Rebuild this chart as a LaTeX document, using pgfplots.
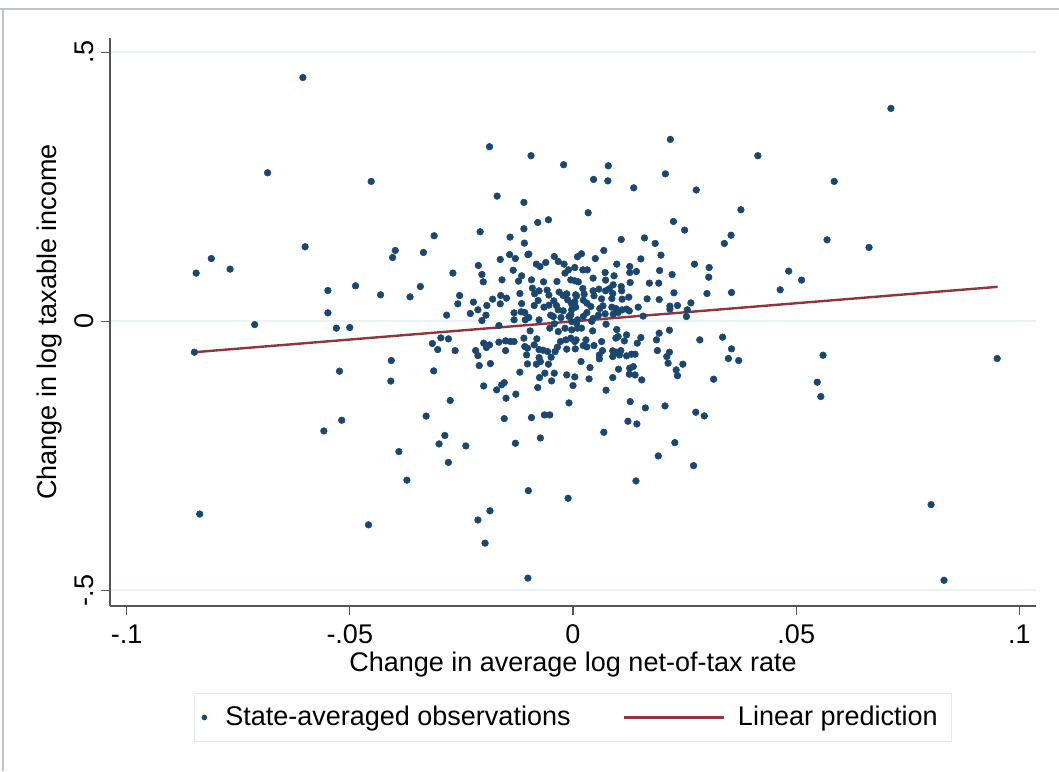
\documentclass[border=0pt]{standalone}
\usepackage{fontspec}
\setmainfont{Liberation Sans}
\usepackage{pgfplots}
\pgfplotsset{compat=1.18}
\definecolor{stnavy}{RGB}{26,71,111}
\definecolor{stmaroon}{RGB}{144,53,59}
\definecolor{stgrid}{RGB}{234,242,243}
\definecolor{stlegend}{RGB}{226,234,236}
\definecolor{framegray}{RGB}{192,198,198}
\definecolor{axisgray}{RGB}{85,85,85}
\pgfplotstableread{
x y
-0.0605 0.453
-0.0684 0.276
-0.0452 0.260
-0.0311 0.159
-0.0600 0.1385
-0.0398 0.1316
-0.0404 0.1186
-0.0335 0.128
-0.0810 0.1167
-0.0844 0.0896
-0.0768 0.097
-0.0549 0.0573
-0.0487 0.066
-0.0431 0.0493
-0.0365 0.0455
-0.0342 0.0647
-0.0549 0.0158
-0.0283 0.0115
-0.0713 -0.006
-0.0530 -0.0127
-0.0500 -0.0115
-0.0848 -0.0573
-0.0296 -0.0307
-0.0315 -0.0412
-0.0303 -0.0524
-0.0279 -0.0325
-0.0407 -0.0728
-0.0523 -0.0926
-0.0312 -0.092
-0.0408 -0.111
-0.0329 -0.176
-0.0518 -0.1837
-0.0558 -0.2036
-0.0287 -0.212
-0.0300 -0.2277
-0.0390 -0.242
-0.0279 -0.262
-0.0372 -0.295
-0.0836 -0.358
-0.0458 -0.378
-0.0275 -0.147
-0.0240 -0.2314
0.0712 0.3956
0.0414 0.3077
0.0585 0.260
0.0376 0.2073
0.0354 0.160
0.0339 0.1447
0.0569 0.1515
0.0663 0.1373
0.0305 0.100
0.0304 0.082
0.0300 0.0517
0.0355 0.0536
0.0483 0.0933
0.0512 0.0766
0.0464 0.0586
0.0335 -0.0294
0.0284 -0.0344
0.0355 -0.0511
0.0348 -0.069
0.0371 -0.0728
0.0315 -0.1075
0.0294 -0.1757
0.0560 -0.0629
0.0547 -0.113
0.0555 -0.1397
0.0950 -0.069
0.0802 -0.3405
0.0831 -0.481
0.0275 -0.1688
-0.0187 0.3244
-0.0094 0.3077
-0.0021 0.291
0.0079 0.289
0.0218 0.338
0.0046 0.2636
0.0078 0.261
0.0207 0.274
0.0136 0.248
0.0276 0.244
-0.0170 0.2327
-0.0110 0.221
0.0034 0.2017
-0.0055 0.1887
-0.0079 0.1837
0.0225 0.1856
0.0250 0.1695
-0.0208 0.1664
-0.0110 0.172
-0.0141 0.1565
-0.0109 0.1453
0.0108 0.152
0.0160 0.155
0.0184 0.1447
-0.0269 0.0896
-0.0212 0.1038
-0.0163 0.115
-0.0142 0.124
-0.0101 0.124
0.0069 0.1316
0.0152 0.116
0.0197 0.123
0.0272 0.1063
0.0222 0.087
-0.0254 0.048
-0.0258 0.0325
-0.0223 0.0357
-0.0230 0.0145
-0.0213 0.0214
-0.0204 0.0015
-0.0195 0.0115
-0.0193 0.0294
-0.0180 0.0412
-0.0162 0.048
-0.0163 0.0325
-0.0149 0.0431
-0.0159 0.0771
-0.0201 0.0734
-0.0204 0.087
-0.0134 0.095
-0.0119 0.0517
-0.0115 0.033
-0.0122 0.0747
-0.0132 0.0158
-0.0116 0.0177
-0.0166 -0.0078
-0.0129 0.1167
-0.0099 0.125
-0.0115 0.0846
-0.0093 0.0771
-0.0066 0.0734
-0.0082 0.1063
-0.0074 0.1019
-0.0061 0.1093
-0.0042 0.1205
-0.0033 0.1112
-0.0020 0.1063
-0.0036 0.074
-0.0018 0.0896
-0.0010 0.0957
0.0004 0.100
0.0010 0.120
-0.0091 0.0617
-0.0086 0.0511
-0.0076 0.0567
-0.0058 0.058
-0.0054 0.0487
-0.0031 0.0543
-0.0022 0.048
-0.0014 0.0511
-0.0012 0.040
0.0006 0.0493
-0.0087 0.0294
-0.0078 0.0387
-0.0065 0.0264
-0.0054 0.0301
-0.0043 0.0381
-0.0037 0.0294
-0.0033 0.0214
-0.0022 0.0195
-0.0003 0.0214
0.0004 0.0368
-0.0108 0.0164
-0.0099 0.0071
-0.0076 0.0028
-0.0050 0.0115
-0.0132 0.0028
0.0019 0.1255
0.0050 0.1167
0.0098 0.1063
0.0127 0.1019
0.0022 0.0957
0.0032 0.0957
0.0072 0.0907
0.0092 0.0846
0.0127 0.0907
0.0142 0.0926
0.0194 0.0944
-0.0005 0.0771
0.0004 0.0753
0.0012 0.0734
0.0045 0.0803
0.0073 0.0766
0.0090 0.0679
0.0108 0.0647
0.0128 0.0721
0.0171 0.071
0.0192 0.071
0.0022 0.061
0.0045 0.0567
0.0058 0.0598
0.0073 0.0567
0.0081 0.0604
0.0109 0.0567
0.0226 0.053
0.0008 0.0474
0.0025 0.0506
0.0023 0.0394
0.0047 0.0474
0.0064 0.0418
0.0089 0.0517
0.0087 0.0424
0.0110 0.0412
0.0125 0.045
0.0166 0.0418
0.0193 0.0405
-0.0003 0.0325
0.0006 0.0264
0.0031 0.0338
0.0040 0.0275
0.0060 0.0238
0.0067 0.0288
0.0087 0.0264
0.0096 0.0238
0.0110 0.0214
0.0120 0.0227
0.0146 0.0264
0.0217 0.0283
0.0217 0.0227
0.0234 0.0294
0.0264 0.0344
0.0256 0.0214
0.0254 0.009
0.0157 0.0097
0.0031 0.0164
0.0045 0.0052
0.0057 0.0115
0.0072 0.0139
0.0090 0.0134
0.0101 0.0164
0.0126 0.0195
0.0010 0.0028
0.0023 0.009
-0.0005 0.0121
-0.0264 -0.0543
-0.0218 -0.0543
-0.0213 -0.0636
-0.0210 -0.0822
-0.0185 -0.0784
-0.0200 -0.0405
-0.0194 -0.0487
-0.0187 -0.0437
-0.0166 -0.0387
-0.0151 -0.0363
-0.0151 -0.0543
-0.0140 -0.0375
-0.0132 -0.0375
-0.0110 -0.0312
-0.0108 -0.0468
-0.0102 -0.0498
-0.0104 -0.0623
-0.0107 0.0028
-0.0096 -0.0177
-0.0081 -0.0325
-0.0087 -0.0437
-0.0076 -0.0524
-0.0102 -0.079
-0.0076 -0.0673
-0.0073 -0.0747
-0.0082 -0.0796
-0.0067 -0.0536
-0.0057 -0.0561
-0.0049 -0.0666
-0.0040 -0.0561
-0.0035 -0.048
-0.0028 -0.0375
-0.0016 -0.0344
-0.0014 -0.0517
0.0005 -0.0511
0.0004 -0.0375
-0.0052 -0.0127
-0.0042 -0.0046
-0.0033 -0.019
-0.0018 -0.0127
-0.0003 -0.0158
-0.0009 0.009
-0.0044 0.009
-0.0027 0.007
-0.0055 -0.0796
-0.0063 -0.0963
-0.0042 -0.0963
-0.0075 -0.1045
-0.0048 -0.1106
-0.0119 -0.0944
-0.0014 -0.0995
0.0004 -0.1032
0.0000 -0.1193
-0.0154 -0.1138
-0.0160 -0.118
-0.0200 -0.120
-0.0171 -0.1273
-0.0150 -0.1428
-0.0128 -0.1353
-0.0079 -0.123
-0.0009 -0.1515
-0.0154 -0.1807
-0.0093 -0.1788
-0.0064 -0.1738
-0.0052 -0.1738
-0.0003 -0.0004
0.0008 -0.0034
0.0019 -0.0127
0.0010 -0.0127
0.0042 0.0
0.0044 -0.0177
0.0074 -0.0052
0.0098 -0.0152
-0.0005 -0.0312
0.0007 -0.0344
0.0029 -0.0344
0.0023 -0.045
0.0031 -0.0474
0.0047 -0.045
0.0064 -0.0375
0.0066 -0.0543
0.0059 -0.0623
0.0059 -0.0697
0.0096 -0.0312
0.0101 -0.0282
0.0120 -0.0251
0.0115 -0.0363
0.0152 -0.0301
0.0144 -0.0405
0.0193 -0.022
0.0216 -0.0164
0.0187 -0.0344
0.0089 -0.0548
0.0098 -0.0573
0.0107 -0.0543
0.0089 -0.0654
0.0104 -0.0623
0.0120 -0.0641
0.0131 -0.061
0.0139 -0.061
0.0189 -0.0543
0.0210 -0.0654
0.0216 -0.0573
0.0213 -0.0777
0.0246 -0.0796
0.0231 -0.0902
0.0234 -0.1008
0.0018 -0.0747
0.0038 -0.0859
0.0102 -0.0889
0.0127 -0.087
0.0135 -0.084
0.0126 -0.0982
0.0139 -0.0995
0.0036 -0.1069
0.0089 -0.1045
0.0154 -0.1088
0.0074 -0.1279
0.0128 -0.1491
0.0162 -0.1608
0.0206 -0.1571
-0.0129 -0.2265
-0.0073 -0.2166
0.0069 -0.206
0.0123 -0.1856
0.0143 -0.1906
0.0228 -0.2253
0.0191 -0.250
0.0270 -0.268
0.0141 -0.2965
-0.0100 -0.3145
-0.0011 -0.3287
-0.0213 -0.369
-0.0186 -0.352
-0.0197 -0.412
-0.0101 -0.477
}\obs
\begin{document}
\fontsize{20.25pt}{24pt}\selectfont
\begin{tikzpicture}
\begin{scope}[x=0.75pt,y=0.75pt]
\path[use as bounding box] (0,0) rectangle (1059,771);
\draw[framegray, line width=1.2pt] (0,762) -- (1059,762);
\draw[framegray, line width=1.2pt] (3,0) -- (3,762);
\end{scope}
\begin{axis}[
  at={(82.5pt,123.75pt)}, anchor=south west,
  width=694.5pt, height=426pt, scale only axis,
  xmin=-0.1037, xmax=0.1037, ymin=-0.5288, ymax=0.5264,
  axis x line*=bottom, axis y line*=left,
  axis line style={-, axisgray, line width=1.3pt},
  xtick={-0.1,-0.05,0,0.05,0.1},
  xticklabels={-.1,-.05,0,.05,.1},
  ytick={-0.5,0,0.5},
  yticklabels={-.5,0,.5},
  tick align=outside,
  major tick length=7pt,
  tick style={axisgray, line width=0.9pt},
  ymajorgrids,
  grid style={stgrid, line width=1.5pt},
  yticklabel style={rotate=90, anchor=south, yshift=-2pt},
  xlabel={Change in average log net-of-tax rate},
  ylabel={Change in log taxable income},
  xlabel style={at={(axis description cs:0.5,-0.1035)}, anchor=center},
  ylabel style={at={(axis description cs:-0.0648,0.5)}, anchor=center},
  legend columns=2,
  legend cell align=left,
  legend style={at={(axis description cs:0.5,-0.1532)}, anchor=north,
    draw=stlegend, line width=1pt, fill=white,
    inner xsep=10.5pt, inner ysep=9pt,
    nodes={inner sep=0pt},
    /tikz/every odd column/.style={column sep=9.75pt},
    /tikz/every even column/.style={column sep=39pt}},
]
\addplot[only marks, mark=*, mark size=2.5pt, color=stnavy,
  legend image code/.code={\path[draw=none, fill=none] (0pt,-1pt) -- (3pt,1pt); \fill[stnavy, overlay] (-3pt,0pt) circle (1.6pt);}]
  table[x=x,y=y] {\obs};
\addlegendentry{State-averaged observations}
\addplot[stmaroon, line width=1.8pt,
  legend image code/.code={\draw[stmaroon, line width=1.8pt] (0pt,0pt) -- (75pt,0pt);}]
  coordinates {(-0.0848,-0.0573) (0.0951,0.0641)};
\addlegendentry{Linear prediction}
\end{axis}
\end{tikzpicture}
\end{document}
